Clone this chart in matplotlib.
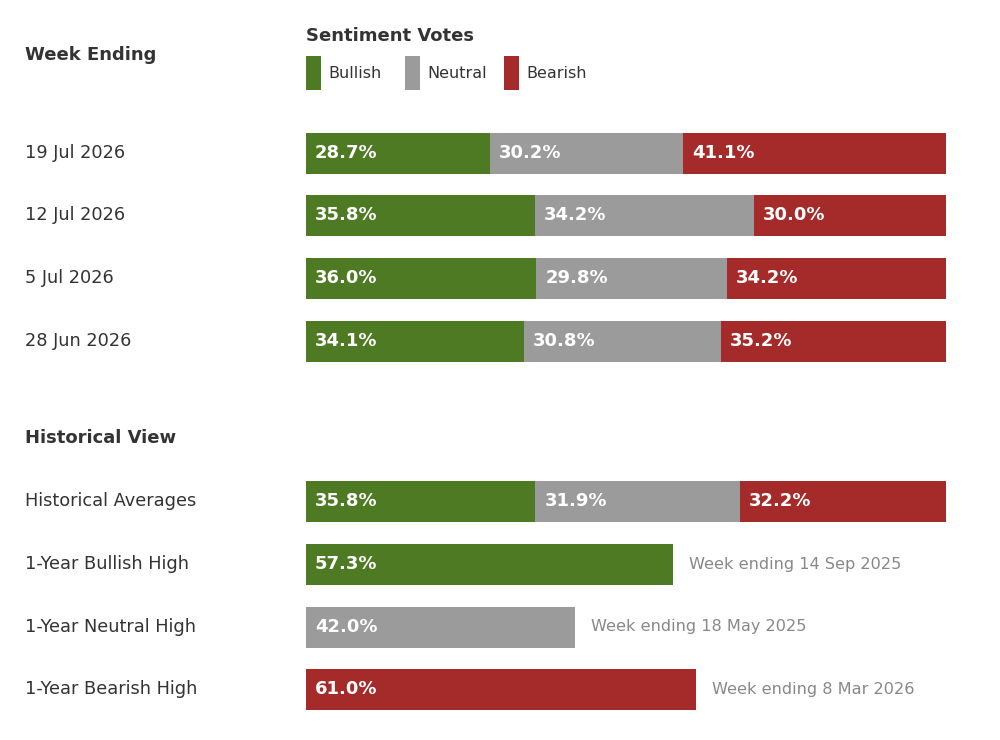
import matplotlib
matplotlib.use("Agg")
import matplotlib.pyplot as plt
from matplotlib.patches import Rectangle

weeks = ['19 Jul 2026', '12 Jul 2026', '5 Jul 2026', '28 Jun 2026']
bullish = [28.7, 35.8, 36.0, 34.1]
neutral = [30.2, 34.2, 29.8, 30.8]
bearish = [41.1, 30.0, 34.2, 35.2]

hist_label = 'Historical Averages'
hist_avg = [35.8, 31.9, 32.2]

high_labels = ['1-Year Bullish High', '1-Year Neutral High', '1-Year Bearish High']
high_values = [57.3, 42.0, 61.0]
high_notes = ['Week ending 14 Sep 2025', 'Week ending 18 May 2025', 'Week ending 8 Mar 2026']

series_names = ['Bullish', 'Neutral', 'Bearish']
colors = ['#4e7a23', '#9b9b9b', '#a52a2a']
TXT = '#333333'
NOTE = '#888888'

W, H = 1000, 740
fig = plt.figure(figsize=(10, 7.4), dpi=100)
x0, x1 = 306, 946
ax = fig.add_axes([x0 / W, 0, (x1 - x0) / W, 1])
ax.set_xlim(0, 100)
ax.set_ylim(H, 0)
ax.axis('off')

scale = 100 / (x1 - x0)  # data units per pixel
def px(xpix):
    return (xpix - x0) * scale

bar_h = 41
label_pad = 9 * scale
fs = 12.8

# Headers
ax.text(px(25), 55, 'Week Ending', fontsize=13, fontweight='bold', color=TXT, va='center', ha='left')
ax.text(px(306), 36, 'Sentiment Votes', fontsize=13, fontweight='bold', color=TXT, va='center', ha='left')
ax.text(px(25), 438, 'Historical View', fontsize=13, fontweight='bold', color=TXT, va='center', ha='left')

# Legend
leg_x = [306, 405, 504]
for lx, name, c in zip(leg_x, series_names, colors):
    ax.add_patch(Rectangle((px(lx), 56), 15 * scale, 34, facecolor=c, edgecolor='none', clip_on=False))
    ax.text(px(lx + 22), 73, name, fontsize=11.5, color=TXT, va='center', ha='left')

def stacked(y, vals):
    total = sum(vals)
    left = 0
    for v, c in zip(vals, colors):
        w = v * 100 / total
        ax.barh(y, w, left=left, height=bar_h, color=c, edgecolor='none')
        ax.text(left + label_pad, y, f'{v:.1f}%', fontsize=13, fontweight='bold',
                color='white', va='center', ha='left')
        left += w

week_y = [153, 215.5, 278, 341.5]
for y, wk, b, n, r in zip(week_y, weeks, bullish, neutral, bearish):
    ax.text(px(25), y, wk, fontsize=fs, color=TXT, va='center', ha='left')
    stacked(y, [b, n, r])

hist_y = 501
ax.text(px(25), hist_y, hist_label, fontsize=fs, color=TXT, va='center', ha='left')
stacked(hist_y, hist_avg)

high_y = [564, 627, 689.5]
for y, lab, v, note, c in zip(high_y, high_labels, high_values, high_notes, colors):
    ax.text(px(25), y, lab, fontsize=fs, color=TXT, va='center', ha='left')
    ax.barh(y, v, height=bar_h, color=c, edgecolor='none')
    ax.text(label_pad, y, f'{v:.1f}%', fontsize=13, fontweight='bold',
            color='white', va='center', ha='left')
    ax.text(v + 16 * scale, y, note, fontsize=11.6, color=NOTE, va='center', ha='left')

fig.savefig('out.png', dpi=100, facecolor='white')
